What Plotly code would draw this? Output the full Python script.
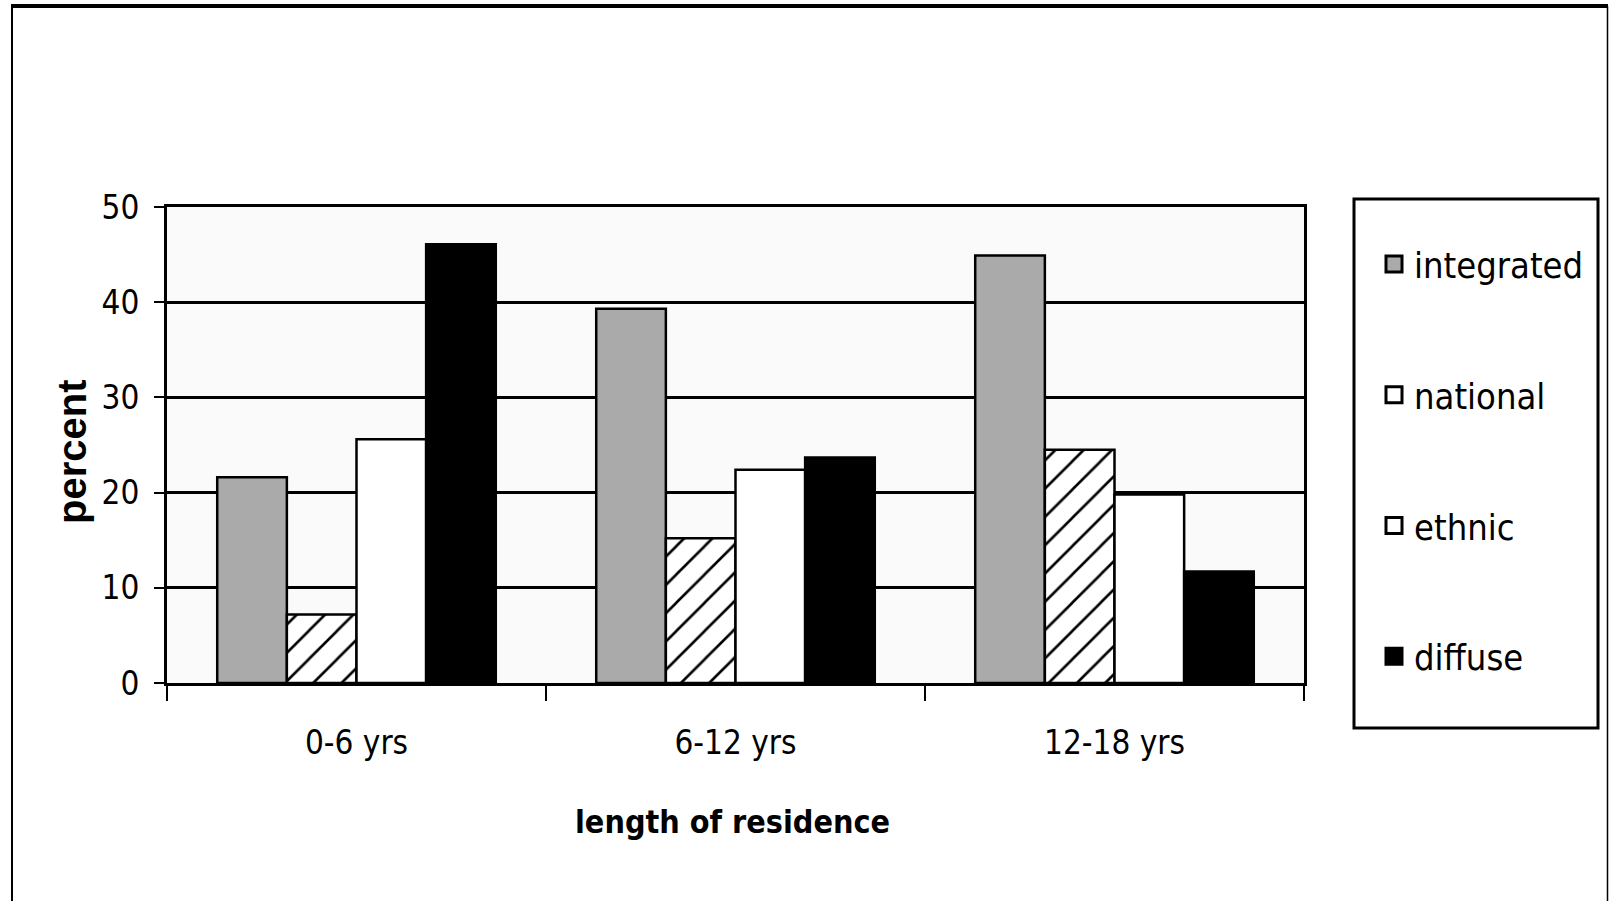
import plotly.graph_objects as go

categories = ["0-6 yrs", "6-12 yrs", "12-18 yrs"]
series_names = ["integrated", "national", "ethnic", "diffuse"]
integrated = [21.6, 39.3, 44.9]
national = [7.2, 15.2, 24.5]
ethnic = [25.6, 22.4, 19.8]
diffuse = [46.1, 23.7, 11.7]
y_ticks = [0, 10, 20, 30, 40, 50]

W, H = 1612, 901
L, R, T, B = 167, 1304, 207, 683  # plot area in px

def px_x(p):
    return (p - L) / (R - L)

def px_y(p):
    return (B - p) / (B - T)

NARROW = "DejaVu Sans Condensed, Liberation Sans Narrow, Arial Narrow, sans-serif"
WIDE = "Liberation Sans, Arial, sans-serif"

fills = ["#AAAAAA", "white", "white", "black"]
patterns = [None, dict(shape="/", fgcolor="black", bgcolor="white", fgopacity=1, size=20, solidity=0.13), None, None]
values = [integrated, national, ethnic, diffuse]

fig = go.Figure()
for name, vals, col, pat in zip(series_names, values, fills, patterns):
    marker = dict(color=col, line=dict(color="black", width=2.5))
    if pat:
        marker["pattern"] = pat
    fig.add_trace(go.Bar(x=categories, y=vals, name=name, marker=marker, showlegend=False))

# legend entries
for name, col in zip(series_names, fills):
    fig.add_trace(go.Scatter(
        x=[None], y=[None], mode="markers", name=name, legendgroup=name,
        marker=dict(symbol="square", size=16, color=col, line=dict(color="black", width=3)),
    ))

fig.update_layout(
    width=W, height=H,
    margin=dict(l=L, r=W - R, t=T, b=H - B, pad=0),
    paper_bgcolor="white",
    plot_bgcolor="#FAFAFA",
    barmode="group",
    bargap=0.265,
    bargroupgap=0,
    showlegend=True,
    legend=dict(
        x=px_x(1374), y=px_y(234), xanchor="left", yanchor="top",
        font=dict(family=NARROW, size=36, color="black"),
        bgcolor="rgba(0,0,0,0)", borderwidth=0,
        tracegroupgap=81, traceorder="grouped",
    ),
    font=dict(family=NARROW, color="black"),
)

fig.update_xaxes(
    type="category",
    showline=True, linecolor="black", linewidth=3, mirror=True,
    ticks="outside", tickson="boundaries", ticklen=15, tickwidth=2, tickcolor="black",
    tickfont=dict(family=NARROW, size=33, color="black"),
    ticklabelstandoff=28,
    showgrid=False,
)
fig.update_yaxes(
    range=[0, 50], tickvals=y_ticks,
    showline=True, linecolor="black", linewidth=3, mirror=True,
    showgrid=True, gridcolor="black", gridwidth=3,
    zeroline=False,
    ticks="outside", ticklen=10, tickwidth=2, tickcolor="black",
    tickfont=dict(family=NARROW, size=33, color="black"),
    ticklabelstandoff=8,
)

fig.add_annotation(text="<b>percent</b>", x=px_x(72), y=px_y(452), xref="paper", yref="paper",
                   xanchor="center", yanchor="middle",
                   textangle=-90, showarrow=False, font=dict(family=WIDE, size=40, color="black"))
fig.add_annotation(text="<b>length of residence</b>", x=px_x(732), y=px_y(822), xref="paper", yref="paper",
                   xanchor="center", yanchor="middle",
                   showarrow=False, font=dict(family=NARROW, size=32, color="black"))

# legend frame
fig.add_shape(type="rect", xref="paper", yref="paper",
              x0=px_x(1354), x1=px_x(1598), y0=px_y(728), y1=px_y(199),
              line=dict(color="black", width=3), fillcolor="rgba(0,0,0,0)")
# outer chart border
fig.add_shape(type="line", xref="paper", yref="paper", x0=px_x(11), x1=px_x(1608), y0=px_y(6), y1=px_y(6),
              line=dict(color="black", width=4))
fig.add_shape(type="line", xref="paper", yref="paper", x0=px_x(12), x1=px_x(12), y0=px_y(6), y1=px_y(930),
              line=dict(color="black", width=2))
fig.add_shape(type="line", xref="paper", yref="paper", x0=px_x(1607.5), x1=px_x(1607.5), y0=px_y(6), y1=px_y(930),
              line=dict(color="black", width=1.5))

fig.write_html("out.html", config={"displayModeBar": False},
               post_script="document.body.style.margin='0px';")
